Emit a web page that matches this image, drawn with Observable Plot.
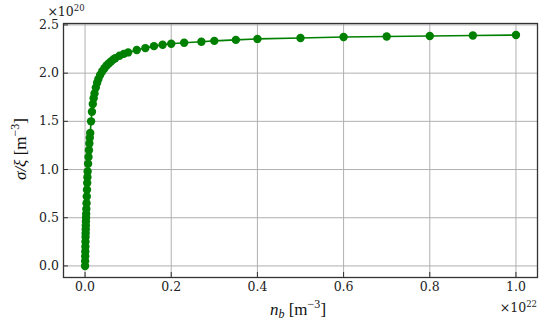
<!DOCTYPE html>
<html><head><meta charset="utf-8">
<script src="https://cdn.jsdelivr.net/npm/d3@7"></script>
<script src="https://cdn.jsdelivr.net/npm/@observablehq/plot@0.6"></script>
<style>body{margin:0;background:#fff}</style>
</head><body><div id="chart"></div>
<script>
// n_b in units of 1e22 m^-3
const nb = [0, 0.0002, 0.0004, 0.0006, 0.0008, 0.001, 0.0012, 0.0014, 0.0016, 0.0018, 0.002, 0.0023, 0.0026, 0.003, 0.0035, 0.004, 0.0045, 0.005, 0.0055, 0.006, 0.007, 0.008, 0.009, 0.010, 0.011, 0.012, 0.014, 0.016, 0.018, 0.020, 0.022, 0.025, 0.028, 0.031, 0.035, 0.040, 0.045, 0.050, 0.055, 0.060, 0.065, 0.070, 0.080, 0.090, 0.10, 0.12, 0.14, 0.16, 0.18, 0.20, 0.23, 0.27, 0.30, 0.35, 0.40, 0.50, 0.60, 0.70, 0.80, 0.90, 1.00];
// sigma/xi in units of 1e20 m^-3
const sigmaXi = [0.0, 0.05, 0.1, 0.15, 0.2, 0.25, 0.3, 0.34, 0.38, 0.42, 0.46, 0.5, 0.54, 0.59, 0.65, 0.72, 0.79, 0.86, 0.92, 0.98, 1.06, 1.13, 1.2, 1.27, 1.33, 1.38, 1.5, 1.6, 1.68, 1.74, 1.79, 1.85, 1.9, 1.94, 1.98, 2.02, 2.05, 2.08, 2.1, 2.12, 2.14, 2.155, 2.18, 2.2, 2.215, 2.24, 2.26, 2.28, 2.295, 2.305, 2.315, 2.325, 2.335, 2.345, 2.355, 2.365, 2.375, 2.38, 2.385, 2.39, 2.395];
const xTicks = [0, 0.2, 0.4, 0.6, 0.8, 1.0];
const yTicks = [0, 0.5, 1.0, 1.5, 2.0, 2.5];

const data = nb.map((x, i) => ({x, y: sigmaXi[i]}));
const fmt = d3.format(".1f");
const tickFont = "'DejaVu Serif', serif";

const plot = Plot.plot({
  width: 550, height: 324,
  marginLeft: 63, marginRight: 13, marginTop: 23, marginBottom: 47,
  style: {fontFamily: tickFont, fontSize: "12.5px", background: "#fff", color: "#222"},
  x: {domain: [-0.05, 1.05], label: null},
  y: {domain: [-0.12, 2.515], label: null},
  marks: [
    Plot.gridX(xTicks, {stroke: "#b0b0b0", strokeOpacity: 1, strokeWidth: 1}),
    Plot.gridY(yTicks, {stroke: "#b0b0b0", strokeOpacity: 1, strokeWidth: 1}),
    Plot.line(data, {x: "x", y: "y", stroke: "#008000", strokeWidth: 1.6}),
    Plot.dot(data, {x: "x", y: "y", r: 4.2, fill: "#008000", stroke: "none"}),
    Plot.frame({stroke: "#333", strokeWidth: 1.3}),
    Plot.axisX(xTicks, {tickSize: -5, tickPadding: 9.5, tickFormat: fmt, label: null, stroke: "#333", fontFamily: tickFont, fontSize: 12.5}),
    Plot.axisY(yTicks, {tickSize: -5, tickPadding: 9.5, tickFormat: fmt, label: null, stroke: "#333", fontFamily: tickFont, fontSize: 12.5})
  ]
});
document.getElementById("chart").appendChild(plot);

const svg = d3.select(plot);
const labelFont = "'Liberation Serif', serif";
// y offset text
const oy = svg.append("text").attr("x", 66).attr("y", 16)
  .attr("font-family", tickFont).attr("font-size", 12.5).attr("fill", "#222");
oy.append("tspan").text("×10");
oy.append("tspan").attr("font-size", 8.5).attr("dy", -5).text("20");
// x offset text
const ox = svg.append("text").attr("x", 537).attr("y", 312).attr("text-anchor", "end")
  .attr("font-family", tickFont).attr("font-size", 12.5).attr("fill", "#222");
ox.append("tspan").text("×10");
ox.append("tspan").attr("font-size", 8.5).attr("dy", -5).text("22");
// x label
const xl = svg.append("text").attr("x", 298).attr("y", 315).attr("text-anchor", "middle")
  .attr("font-family", labelFont).attr("font-size", 17).attr("fill", "#111");
xl.append("tspan").attr("font-style", "italic").text("n");
xl.append("tspan").attr("font-style", "italic").attr("font-size", 12).attr("dy", 3).text("b");
xl.append("tspan").attr("dy", -3).text(" [m");
xl.append("tspan").attr("font-size", 12).attr("dy", -7).text("−3");
xl.append("tspan").attr("dy", 7).text("]");
// y label
const yl = svg.append("text").attr("transform", "translate(26,149) rotate(-90)").attr("text-anchor", "middle")
  .attr("font-family", labelFont).attr("font-size", 17).attr("fill", "#111");
yl.append("tspan").attr("font-style", "italic").text("σ/ξ");
yl.append("tspan").text(" [m");
yl.append("tspan").attr("font-size", 12).attr("dy", -7).text("−3");
yl.append("tspan").attr("dy", 7).text("]");
</script>
</body></html>
